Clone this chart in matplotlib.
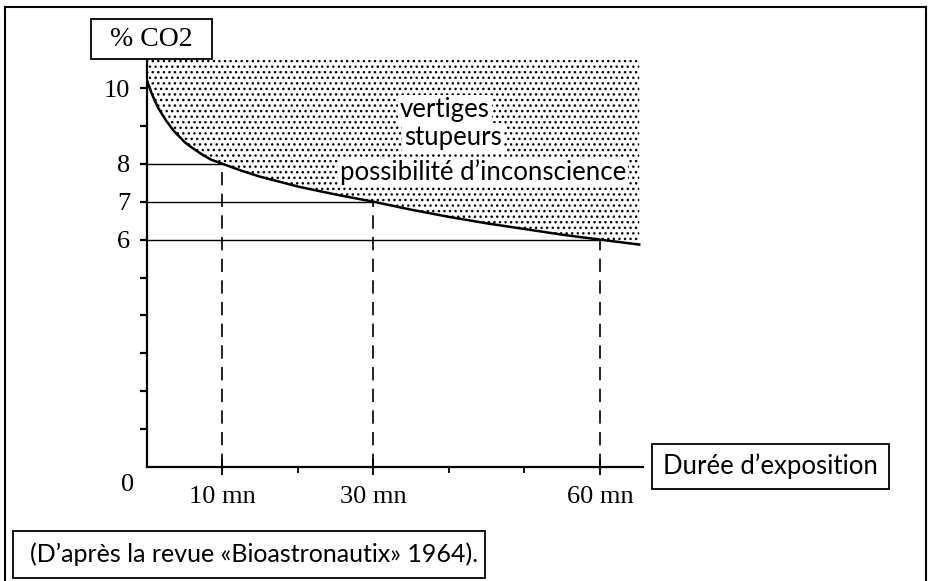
import matplotlib
matplotlib.use("Agg")
import matplotlib.pyplot as plt
from matplotlib.patches import Rectangle
from matplotlib.lines import Line2D

# tolerance curve: % CO2 vs exposure time (minutes)
time_mn = [0, 0.5, 1, 1.5, 2.5, 3.5, 5, 6, 7.5, 8.5, 10, 12.5, 15, 20, 25, 30,
           35, 40, 45, 50, 55, 60, 65.2]
co2_pct = [10.2, 9.92, 9.68, 9.47, 9.15, 8.88, 8.57, 8.42, 8.22, 8.11, 8.0, 7.82,
           7.66, 7.4, 7.19, 7.0, 6.79, 6.6, 6.43, 6.28, 6.13, 6.0, 5.87]

# marked reference points
mark_time = [10, 30, 60]
mark_co2 = [8, 7, 6]
x_tick_labels = ["10 mn", "30 mn", "60 mn"]
x_minor = [20, 40, 50]
y_ticks = [1, 2, 3, 4, 5, 6, 7, 8, 9, 10]
y_labels = {6: "6", 7: "7", 8: "8", 10: "10"}

zone_text = ["vertiges", "stupeurs", "possibilité d\u2019inconscience"]

W, H = 936, 581
SERIF = "Liberation Serif"
SANS = "Lato"

plt.rcParams["hatch.linewidth"] = 1.0
plt.rcParams["hatch.color"] = "black"


def fx(px):
    return px / W


def fy(py):
    return 1 - py / H


fig = plt.figure(figsize=(W / 100, H / 100), dpi=100)
ax = fig.add_axes([fx(147), fy(467), (643 - 147) / W, (467 - 60) / H])
ax.set_xlim(0, 65.7)
ax.set_ylim(0, 10.74)

# stippled danger zone above the curve
ax.fill_between(time_mn, co2_pct, 10.74, facecolor="none", hatch="...",
                edgecolor="black", linewidth=0, zorder=1)
ax.plot(time_mn, co2_pct, color="black", lw=1.8, zorder=3)

for t, c in zip(mark_time, mark_co2):
    ax.plot([0, t], [c, c], color="black", lw=1.0, zorder=2)
    ax.plot([t, t], [0, c], color="black", lw=1.2, linestyle=(0, (8, 5)), zorder=2)

for s in ["top", "right"]:
    ax.spines[s].set_visible(False)
for s in ["left", "bottom"]:
    ax.spines[s].set_linewidth(1.6)

ax.set_yticks(y_ticks)
ax.set_yticklabels([y_labels.get(v, "") for v in y_ticks], family=SERIF, fontsize=19)
ax.tick_params(axis="y", direction="out", length=5, width=1.6, pad=7)

ax.set_xticks(mark_time)
ax.set_xticklabels(x_tick_labels, family=SERIF, fontsize=19)
ax.set_xticks(x_minor, minor=True)
ax.tick_params(axis="x", which="major", direction="inout", length=12, width=1.3, pad=8)
ax.tick_params(axis="x", which="minor", direction="out", length=4, width=1.3)

ax.annotate("0", (0, 0), xytext=(-14, -13), textcoords="offset points",
            ha="center", va="center", family=SERIF, fontsize=19)

# text inside the stippled zone
for (tx, ty), s in zip([(445, 110), (453, 138), (483, 172)], zone_text):
    fig.text(fx(tx), fy(ty), s, ha="center", va="center", family=SANS, fontsize=18.5,
             bbox=dict(facecolor="white", edgecolor="none", pad=1.5), zorder=5)

# boxed labels
def boxed(x0, y0, x1, y1, text, tx, family, size, ha="center"):
    fig.add_artist(Rectangle((fx(x0), fy(y1)), (x1 - x0) / W, (y1 - y0) / H,
                             transform=fig.transFigure, fill=False, lw=1.3, ec="black"))
    fig.text(fx(tx), fy((y0 + y1) / 2), text, ha=ha, va="center",
             family=family, fontsize=size)


boxed(91, 19, 212, 59, "% CO2", 151.5, SERIF, 20)
boxed(652, 444, 889, 489, "Durée d\u2019exposition", 770, SANS, 18.5)
boxed(13, 531, 485, 578, "(D\u2019après la revue «Bioastronautix» 1964).", 30, SANS, 18, ha="left")

# outer frame (open at the bottom)
for xs, ys in [([5, 5], [581, 7]), ([5, 926], [7, 7]), ([926, 926], [7, 581])]:
    fig.add_artist(Line2D([fx(v) for v in xs], [fy(v) for v in ys], color="black", lw=1.5))

fig.savefig("out.png", dpi=100, facecolor="white")
